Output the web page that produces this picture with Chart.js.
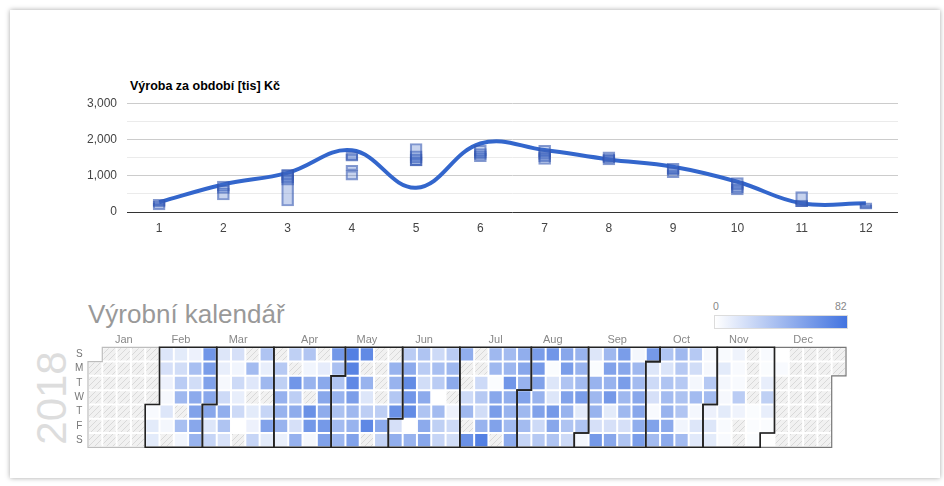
<!DOCTYPE html>
<html>
<head>
<meta charset="utf-8">
<script src="https://cdn.jsdelivr.net/npm/chart.js@4.4.1/dist/chart.umd.min.js"></script>
<style>
  html, body { margin: 0; padding: 0; background: #fff; }
  body { width: 944px; height: 486px; position: relative; overflow: hidden;
         font-family: "Liberation Sans", Arial, sans-serif; }
  .card { position: absolute; left: 10px; top: 10px; width: 930px; height: 468px;
          background: #fff; box-shadow: 0 0 5px rgba(0,0,0,0.35); }
  canvas { position: absolute; left: 0; }
  .title { position: absolute; left: 130px; top: 79px; font-size: 12.5px; font-weight: bold; color: #000; }
  .caltitle { position: absolute; left: 88px; top: 299px; font-size: 26px; color: #999; }
  .year { position: absolute; left: 52px; top: 398px; font-size: 42px; color: #ddd;
          transform: translate(-50%, -50%) rotate(-90deg); line-height: 1; }
  .legend { position: absolute; left: 714px; top: 315px; width: 132px; height: 12px;
            border: 1px solid #dcdcdc; background: linear-gradient(to right, #ffffff, #4374e0); }
  .lg { position: absolute; top: 300px; font-size: 10.5px; color: #888; }
</style>
</head>
<body>
<div class="card"></div>
<div class="title">Výroba za období [tis] Kč</div>
<canvas id="vyroba" width="944" height="154" style="top:86px"></canvas>
<div class="caltitle">Výrobní kalendář</div>
<div class="year">2018</div>
<div class="legend"></div>
<div class="lg" style="left:713px">0</div>
<div class="lg" style="left:835px">82</div>
<canvas id="kalendar" width="944" height="135" style="top:325px"></canvas>
<script>
// --- horní graf: výroba po měsících ---
const monthLabels = ["1", "2", "3", "4", "5", "6", "7", "8", "9", "10", "11", "12"];
const lineValues = [270, 760, 1080, 1700, 670, 1890, 1710, 1450, 1250, 835, 240, 240];
const range1 = [[60, 350], [330, 850], [165, 1170], [1400, 1660], [1270, 1890], [1390, 1840],
                [1310, 1840], [1300, 1660], [950, 1340], [470, 950], [150, 560], [75, 255]];
const range2 = [[130, 240], [510, 740], [740, 1080], [1420, 1600], [1270, 1690], [1450, 1750],
                [1380, 1700], [1350, 1560], [1030, 1230], [530, 840], [150, 330], [100, 200]];
const range3 = [[165, 300], [590, 650], [810, 1020], [880, 1140], [1350, 1600], [1500, 1690],
                [1450, 1610], [1420, 1600], [1060, 1160], [600, 760], [200, 300], null];
const range4 = [null, null, [880, 1170], [1140, 1290], [1420, 1520], [1550, 1620],
                [1520, 1650], [1380, 1500], null, [650, 700], null, null];

// --- kalendář: denní hodnoty (null = bez dat) ---
const jan = [null, null, null, null, null, null, null, null, null, null, null, null, null, null, null, null,
             null, null, null, null, null, null, null, null, null, null, null, null, null, null, null];
const feb = [3, 12, 12, 15, 18, 8, 4, 15, 5, null, 12, 20, 30, 42, null, 38, 6, 8, 38, 20, 50, 55, 52, 45,
             62, 58, 55, 52];
const mar = [52, 15, 25, 15, 10, 4, 22, 48, 35, 17, 18, 6, 22, 10, 22, 0, null, null, 40, 14, null, 12, 8,
             25, 35, 10, 42, null, 25, 55, 12];
const apr = [null, 32, 28, 46, 45, 45, 9, 28, null, 62, 29, 49, 18, 46, 34, 6, 45, null, 65, 61, 5, null,
             11, 51, 52, 49, 60, 55, 61, 37];
const may = [35, 45, 36, 40, 43, 75, 73, 70, 57, 42, 45, 55, 69, null, 45, 15, 29, 70, null, null, null,
             null, null, 29, 51, 26, null, 45, 45, 33, 65];
const jun = [18, 48, 30, 50, 68, 62, 68, 0, 45, 35, 30, 20, 50, 35, 50, 52, 22, 38, 30, 0, 40, 28, 25, 30,
             42, 50, null, 8, 22, 20];
const jul = [48, null, null, 22, 42, null, 65, null, null, 22, 32, 20, 45, 75, 42, 42, 2, 52, 58, 55, null,
             40, 43, 62, 48, 45, 41, 50, 48, 52, 45];
const aug = [55, 42, 40, 25, 58, 60, 55, 45, 55, 22, 32, 62, 2, 15, 15, 60, 52, 35, 52, 58, 35, 55, 45, 35,
             22, 45, 45, 40, 58, 12, 35];
const sep = [5, 15, 2, 45, 42, 45, 18, 60, 42, 55, 45, 60, 12, 18, 52, 58, 52, 58, 42, 42, 18, 35, 5, 42,
             40, 52, 52, 48, 58, 60];
const oct = [15, 22, 18, 3, 55, 40, 35, 16, 35, 40, 45, 50, 50, 42, 32, 32, 36, 34, 6, 40, 32, 20, 5, 40,
             5, 15, 13, 4, 4, 32, 40];
const nov = [8, 15, 12, 3, 12, 5, 4, 12, 3, 3, 7, 3, 3, 30, 7, null, null, null, null, null, null, 2, 2, 2,
             3, 2, 10, 28, 10, 2];
const dec = [0, 0, 3, null, null, null, null, null, null, null, null, null, null, null, null, null, null,
             null, null, null, null, null, null, null, null, null, null, null, null, null, null];
const monthNames = ["Jan", "Feb", "Mar", "Apr", "May", "Jun", "Jul", "Aug", "Sep", "Oct", "Nov", "Dec"];
const dayLetters = ["S", "M", "T", "W", "T", "F", "S"];
const maxValue = 82;

const FONT = '"Liberation Sans", Arial, sans-serif';

new Chart(document.getElementById("vyroba"), {
  type: "bar",
  data: {
    labels: monthLabels,
    datasets: [
      {
        type: "line",
        data: lineValues,
        borderColor: "#3366cc",
        borderWidth: 4,
        tension: 0.4,
        pointRadius: 0,
        fill: false,
        order: 5,
      },
      ...[range1, range2, range3, range4].map((r) => ({
        data: r,
        backgroundColor: "rgba(70, 110, 200, 0.3)",
        borderColor: "rgba(50, 85, 175, 0.6)",
        borderWidth: 1.5,
        borderSkipped: false,
        barThickness: 12,
        grouped: false,
        order: 1,
      })),
    ],
  },
  options: {
    responsive: false,
    animation: false,
    events: [],
    layout: { padding: { left: 0, right: 46, top: 8, bottom: 0 } },
    plugins: { legend: { display: false }, tooltip: { enabled: false } },
    scales: {
      x: {
        grid: { display: false, drawTicks: false },
        border: { display: false },
        ticks: { color: "#444", font: { family: FONT, size: 12 }, padding: 9 },
        afterFit: (s) => { s.height = 28; },
      },
      y: {
        min: 0,
        max: 3000,
        border: { display: false },
        grid: {
          drawTicks: false,
          color: (c) => (c.tick.value === 0 ? "#333" : c.tick.value % 1000 === 0 ? "#cccccc" : "#ebebeb"),
        },
        ticks: {
          stepSize: 500,
          padding: 10,
          color: "#444",
          font: { family: FONT, size: 12 },
          callback: (v) => (v % 1000 === 0 ? v.toLocaleString("en-US") : ""),
        },
        afterFit: (s) => { s.width = 127; },
      },
    },
  },
});

// --- kalendář ---
const months = [jan, feb, mar, apr, may, jun, jul, aug, sep, oct, nov, dec];
const yearDays = [].concat(...months);
const firstWeekday = new Date(2018, 0, 1).getDay();
const nCols = Math.floor((yearDays.length - 1 + firstWeekday) / 7) + 1;
const monthOfDay = [];
months.forEach((m, i) => m.forEach(() => monthOfDay.push(i)));

const rowData = [], rowVals = [];
for (let r = 0; r < 7; r++) {
  rowData.push(new Array(nCols).fill(null));
  rowVals.push(new Array(nCols).fill(null));
}
yearDays.forEach((v, d) => {
  const k = d + firstWeekday;
  const c = Math.floor(k / 7), r = k % 7;
  rowData[r][c] = [r, r + 1];
  rowVals[r][c] = v;
});

// centers of month label columns
const monthCenters = months.map((m, i) => {
  const start = monthOfDay.indexOf(i);
  const end = monthOfDay.lastIndexOf(i);
  const c0 = Math.floor((start + firstWeekday) / 7);
  const c1 = Math.floor((end + firstWeekday) / 7);
  return (c0 + c1) / 2;
});

function makeHatch(ctx) {
  const c = document.createElement("canvas");
  c.width = 6; c.height = 6;
  const g = c.getContext("2d");
  g.fillStyle = "#f1f1f1";
  g.fillRect(0, 0, 6, 6);
  g.strokeStyle = "#d9d9d9";
  g.lineWidth = 1;
  g.beginPath();
  g.moveTo(0, 6); g.lineTo(6, 0);
  g.moveTo(-1, 1); g.lineTo(1, -1);
  g.moveTo(5, 7); g.lineTo(7, 5);
  g.stroke();
  return ctx.createPattern(c, "repeat");
}
const calCanvas = document.getElementById("kalendar");
const hatch = makeHatch(calCanvas.getContext("2d"));

function cellColor(v) {
  if (v === null || v === undefined) return hatch;
  const t = Math.min(v / maxValue, 1);
  const r = Math.round(255 + (67 - 255) * t);
  const g = Math.round(255 + (116 - 255) * t);
  const b = Math.round(255 + (224 - 255) * t);
  return `rgb(${r},${g},${b})`;
}

const outlinePlugin = {
  id: "monthOutline",
  afterDatasetsDraw(chart) {
    const xs = chart.scales.x, ys = chart.scales.y;
    const cw = xs.width / nCols;
    const left = (c) => xs.getPixelForValue(c) - cw / 2;
    const top = (r) => ys.getPixelForValue(r);
    const mo = (d) => (d < 0 || d >= yearDays.length ? -1 : monthOfDay[d]);
    const ctx = chart.ctx;
    ctx.save();
    ctx.lineCap = "square";
    const order = [0, 11, 1, 2, 3, 4, 5, 6, 7, 8, 9, 10];
    order.forEach((m) => {
      ctx.strokeStyle = m === 0 ? "#bdbdbd" : m === 11 ? "#777" : "#222";
      ctx.lineWidth = m === 0 || m === 11 ? 1.2 : 1.6;
      ctx.beginPath();
      yearDays.forEach((v, d) => {
        if (monthOfDay[d] !== m) return;
        const k = d + firstWeekday;
        const c = Math.floor(k / 7), r = k % 7;
        const x0 = left(c), x1 = left(c + 1), y0 = top(r), y1 = top(r + 1);
        if (r === 0 || mo(d - 1) !== m) { ctx.moveTo(x0, y0); ctx.lineTo(x1, y0); }
        if (r === 6 || mo(d + 1) !== m) { ctx.moveTo(x0, y1); ctx.lineTo(x1, y1); }
        if (mo(d - 7) !== m) { ctx.moveTo(x0, y0); ctx.lineTo(x0, y1); }
        if (mo(d + 7) !== m) { ctx.moveTo(x1, y0); ctx.lineTo(x1, y1); }
      });
      ctx.stroke();
    });
    ctx.restore();
  },
};

new Chart(calCanvas, {
  type: "bar",
  data: {
    labels: Array.from({ length: nCols }, (_, i) => String(i + 1)),
    datasets: rowData.map((data, r) => ({
      data,
      backgroundColor: (c) => cellColor(rowVals[r][c.dataIndex]),
      borderColor: "#ffffff",
      borderWidth: 1,
      borderSkipped: false,
      inflateAmount: 0,
      grouped: false,
      categoryPercentage: 1,
      barPercentage: 1,
    })),
  },
  options: {
    responsive: false,
    animation: false,
    events: [],
    layout: { padding: { left: 70, right: 98, top: 0, bottom: 12.7 } },
    plugins: { legend: { display: false }, tooltip: { enabled: false } },
    scales: {
      x: { display: false },
      x2: {
        type: "linear",
        position: "top",
        offset: false,
        min: -0.5,
        max: nCols - 0.5,
        grid: { display: false, drawTicks: false },
        border: { display: false },
        afterBuildTicks: (s) => { s.ticks = monthCenters.map((v) => ({ value: v })); },
        ticks: {
          autoSkip: false,
          maxRotation: 0,
          padding: 1,
          color: "#888",
          font: { family: FONT, size: 11 },
          callback: (v, i) => monthNames[i],
        },
        afterFit: (s) => { s.height = 22.3; },
      },
      y: {
        min: 0,
        max: 7,
        reverse: true,
        grid: { display: false, drawTicks: false },
        border: { display: false },
        afterBuildTicks: (s) => { s.ticks = dayLetters.map((_, i) => ({ value: i + 0.5 })); },
        ticks: {
          autoSkip: false,
          padding: 4,
          crossAlign: "center",
          color: "#777",
          font: { family: FONT, size: 10 },
          callback: (v, i) => dayLetters[i],
        },
        afterFit: (s) => { s.width = 18; },
      },
    },
  },
  plugins: [outlinePlugin],
});
</script>
</body>
</html>
